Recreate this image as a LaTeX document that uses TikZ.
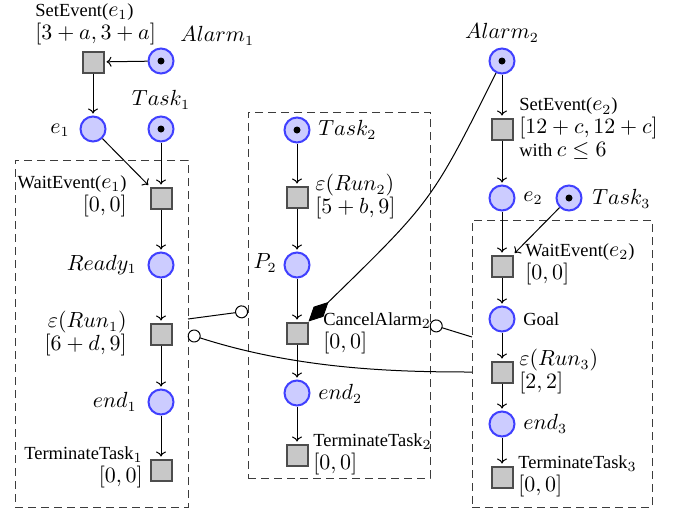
\documentclass[tikz,border=0pt]{standalone}
\usepackage{fontspec}
\setmainfont{Liberation Serif}[Scale=0.88]
\usetikzlibrary{arrows.meta,fit}
\definecolor{placefill}{RGB}{204,204,255}
\definecolor{placeline}{RGB}{64,64,255}
\definecolor{transfill}{RGB}{200,200,200}
\definecolor{transline}{RGB}{77,77,77}
\definecolor{boxline}{RGB}{60,60,60}
\begin{document}
\begin{tikzpicture}[x=0.5pt, y=-0.5pt,
  font=\fontsize{10.5}{11.5}\selectfont,
  place/.style={circle, draw=placeline, fill=placefill, line width=1pt,
    minimum size=12.5pt, inner sep=0pt},
  tokenplace/.style={place, path picture={\fill[black]
    (path picture bounding box.center) circle (1.75pt);}},
  trans/.style={rectangle, draw=transline, fill=transfill, line width=1pt,
    minimum size=10.5pt, inner sep=0pt},
  lbl/.style={inner sep=0pt},
  arc/.style={line width=0.5pt,
    -{Computer Modern Rightarrow[width=5pt,length=2.5pt]}, shorten >=1pt},
  resetarc/.style={line width=0.5pt, -{Diamond[length=14pt,width=7pt]}},
  inhib/.style={line width=0.5pt, -{Circle[open,length=6.5pt]}},
  groupbox/.style={draw=boxline, line width=0.5pt,
    dash pattern=on 4pt off 2.5pt, inner sep=0pt},
]
\useasboundingbox (0,0) rectangle (675,510);

% task groups
\node[groupbox, fit={(15,160) (188,507)}] (lbox) {};
\node[groupbox, fit={(248,112) (430,478)}] (mbox) {};
\node[groupbox, fit={(472,220) (652,507)}] (rbox) {};

% task 1
\node[trans] (se1) at (93,62) {};
\node[tokenplace] (a1) at (161,61) {};
\node[place] (e1) at (93,129) {};
\node[tokenplace] (t1) at (161,129) {};
\node[trans] (w1) at (161,198) {};
\node[place] (r1) at (161,265) {};
\node[trans] (run1) at (161,334) {};
\node[place] (end1) at (161,402) {};
\node[trans] (tt1) at (161,470) {};

\node[lbl, align=left, anchor=west] (lse1) at (35,24) {SetEvent($e_1$)\\$[3+a, 3+a]$};
\node[lbl, anchor=west] (la1) at (180,36) {$Alarm_1$};
\node[lbl] (lt1) at (161,100) {$Task_1$};
\node[lbl, anchor=east] (le1) at (70,130) {$e_1$};
\node[lbl, align=right, anchor=east] (lw1) at (127,196) {WaitEvent($e_1$)\\$[0,0]$};
\node[lbl, anchor=east] (lr1) at (137,265) {$Ready_1$};
\node[lbl, align=right, anchor=east] (lrun1) at (127,334) {$\varepsilon(Run_1)$\\$[6+d,9]$};
\node[lbl, anchor=east] (lend1) at (137,402) {$end_1$};
\node[lbl, align=right, anchor=east] (ltt1) at (143,467) {TerminateTask$_1$\\$[0,0]$};

% task 2
\node[tokenplace] (t2) at (297,130) {};
\node[trans] (run2) at (297,197) {};
\node[place] (p2) at (297,265) {};
\node[trans] (ca2) at (297,333) {};
\node[place] (end2) at (297,393) {};
\node[trans] (tt2) at (297,455) {};

\node[lbl, anchor=west] (lt2) at (318,130) {$Task_2$};
\node[lbl, align=left, anchor=west] (lrun2) at (315,197) {$\varepsilon(Run_2)$\\$[5+b,9]$};
\node[lbl, anchor=east] (lp2) at (277,263) {$P_2$};
\node[lbl, align=left, anchor=west] (lca2) at (323,333) {CancelAlarm$_2$\\$[0,0]$};
\node[lbl, anchor=west] (lend2) at (318,394) {$end_2$};
\node[lbl, align=left, anchor=west] (ltt2) at (313,454) {TerminateTask$_2$\\$[0,0]$};

% task 3
\node[tokenplace] (a2) at (502,61) {};
\node[trans] (se2) at (502,129) {};
\node[place] (e2) at (502,198) {};
\node[tokenplace] (t3) at (569,198) {};
\node[trans] (w2) at (502,266) {};
\node[place] (goal) at (502,319) {};
\node[trans] (run3) at (502,372) {};
\node[place] (end3) at (502,424) {};
\node[trans] (tt3) at (502,477) {};

\node[lbl] (la2) at (502,33) {$Alarm_2$};
\node[lbl, align=left, anchor=west] (lse2) at (519,129) {SetEvent($e_2$)\\$[12+c, 12+c]$\\with $c\leq 6$};
\node[lbl, anchor=west] (le2) at (523,198) {$e_2$};
\node[lbl, anchor=west] (lt3) at (592,199) {$Task_3$};
\node[lbl, align=left, anchor=west] (lw2) at (525,264) {WaitEvent($e_2$)\\$[0,0]$};
\node[lbl, anchor=west] (lgoal) at (523,319) {Goal};
\node[lbl, align=left, anchor=west] (lrun3) at (519,372) {$\varepsilon(Run_3)$\\$[2,2]$};
\node[lbl, anchor=west] (lend3) at (523,424) {$end_3$};
\node[lbl, align=left, anchor=west] (ltt3) at (518,476) {TerminateTask$_3$\\$[0,0]$};

% ends of the arcs between the task groups
\coordinate (i1a) at (188,319);
\coordinate (i1b) at (248,311);
\coordinate (i2a) at (472,372);
\coordinate (i2b) at (188,334);
\coordinate (i3a) at (472,337);
\coordinate (i3b) at (430,324);

% arcs
\draw[arc] (a1) -- (se1);
\draw[arc] (se1) -- (e1);
\draw[arc] (e1) -- (w1);
\draw[arc] (t1) -- (w1);
\draw[arc] (w1) -- (r1);
\draw[arc] (r1) -- (run1);
\draw[arc] (run1) -- (end1);
\draw[arc] (end1) -- (tt1);

\draw[arc] (t2) -- (run2);
\draw[arc] (run2) -- (p2);
\draw[arc] (p2) -- (ca2);
\draw[arc] (ca2) -- (end2);
\draw[arc] (end2) -- (tt2);

\draw[arc] (a2) -- (se2);
\draw[arc] (se2) -- (e2);
\draw[arc] (e2) -- (w2);
\draw[arc] (t3) -- (w2);
\draw[arc] (w2) -- (goal);
\draw[arc] (goal) -- (run3);
\draw[arc] (run3) -- (end3);
\draw[arc] (end3) -- (tt3);

\draw[resetarc] (a2) .. controls (432,201) .. (ca2.north east);
\draw[inhib] (i1a) -- (i1b);
\draw[inhib] (i2a) .. controls (400,372) and (300,370) .. (i2b);
\draw[inhib] (i3a) -- (i3b);
\end{tikzpicture}
\end{document}
